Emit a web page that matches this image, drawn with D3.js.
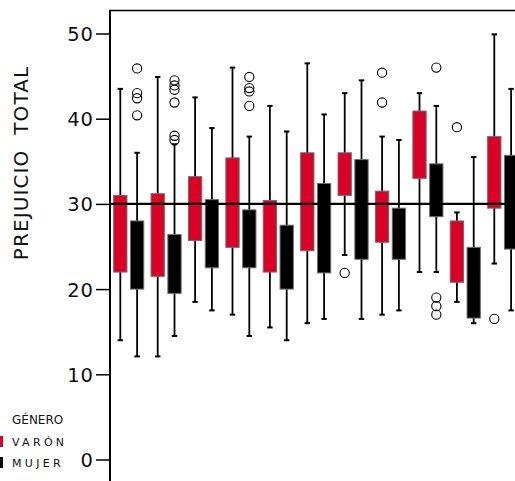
<!DOCTYPE html>
<html>
<head>
<meta charset="utf-8">
<script src="https://cdn.jsdelivr.net/npm/d3@7/dist/d3.min.js"></script>
<style>
  html, body { margin: 0; padding: 0; background: #fff; }
  svg { display: block; }
  text { font-family: "DejaVu Sans", Verdana, sans-serif; fill: #111; }
</style>
</head>
<body>
<svg id="chart" width="515" height="481"></svg>
<script>
// Groups along the x axis (11 groups, two genders each)
const categories = ["1", "2", "3", "4", "5", "6", "7", "8", "9", "10", "11"];
const genders = ["VARÓN", "MUJER"];
const yTicks = [0, 10, 20, 30, 40, 50];
const referenceValue = 30;

// Box statistics per group: lower whisker, Q1, Q3, upper whisker
const varonLow  = [14.0, 12.1, 18.5, 17.0, 15.5, 16.0, 24.0, 17.0, 22.0, 18.5, 23.0];
const varonQ1   = [22.0, 21.5, 25.7, 24.9, 22.0, 24.5, 31.0, 25.5, 33.0, 20.8, 29.5];
const varonQ3   = [31.0, 31.2, 33.2, 35.4, 30.4, 36.0, 36.0, 31.5, 40.9, 28.0, 37.9];
const varonHigh = [43.5, 44.9, 42.5, 46.0, 41.5, 46.5, 43.0, 37.9, 43.0, 29.0, 49.9];
const varonOutliers = [[], [], [], [], [], [], [21.9], [45.4, 41.9], [], [39.0], [16.5]];

const mujerLow  = [12.1, 14.5, 17.5, 14.5, 14.0, 16.5, 16.5, 17.5, 22.0, 16.0, 17.5];
const mujerQ1   = [20.0, 19.5, 22.5, 22.5, 20.0, 21.9, 23.5, 23.5, 28.5, 16.6, 24.7];
const mujerQ3   = [28.0, 26.4, 30.5, 29.3, 27.5, 32.4, 35.2, 29.5, 34.7, 24.9, 35.7];
const mujerHigh = [36.0, 37.0, 38.9, 37.9, 38.5, 40.5, 44.5, 37.5, 41.5, 35.5, 43.5];
const mujerOutliers = [
  [45.9, 43.0, 42.4, 40.4],
  [44.5, 43.9, 43.4, 41.9, 38.0, 37.5],
  [], [44.9, 43.6, 43.2, 41.5], [], [], [], [],
  [46.0, 19.0, 18.0, 17.0], [], []
];

const colors = { "VARÓN": "#dd0026", "MUJER": "#000000" };

// Build the box records from the arrays above
const boxes = [];
categories.forEach((c, i) => {
  boxes.push({ cat: c, gender: "VARÓN", low: varonLow[i], q1: varonQ1[i], q3: varonQ3[i], high: varonHigh[i], out: varonOutliers[i] });
  boxes.push({ cat: c, gender: "MUJER", low: mujerLow[i], q1: mujerQ1[i], q3: mujerQ3[i], high: mujerHigh[i], out: mujerOutliers[i] });
});

const svg = d3.select("#chart");
const plotLeft = 110, plotTop = 10.5;

const y = d3.scaleLinear().domain([0, 50]).range([459.5, 33.5]);
const x = d3.scaleBand().domain(categories).range([plotLeft, 521.4]).padding(0);
const xSub = d3.scalePoint().domain(genders).range([-8.4, 8.4]);
const boxW = 13.3;
const cx = d => x(d.cat) + x.bandwidth() / 2 + xSub(d.gender);

// Frame: top border
svg.append("line")
  .attr("x1", plotLeft).attr("x2", 515).attr("y1", plotTop).attr("y2", plotTop)
  .attr("stroke", "#000").attr("stroke-width", 1.5);

// Whiskers
const g = svg.append("g");
g.selectAll("line.whisker").data(boxes).join("line")
  .attr("class", "whisker")
  .attr("x1", cx).attr("x2", cx)
  .attr("y1", d => y(d.low)).attr("y2", d => y(d.high))
  .attr("stroke", "#000").attr("stroke-width", 1.8);
["low", "high"].forEach(k => {
  g.selectAll("line.cap-" + k).data(boxes).join("line")
    .attr("class", "cap-" + k)
    .attr("x1", d => cx(d) - 2.7).attr("x2", d => cx(d) + 2.7)
    .attr("y1", d => y(d[k])).attr("y2", d => y(d[k]))
    .attr("stroke", "#000").attr("stroke-width", 2);
});

// Boxes
g.selectAll("rect.box").data(boxes).join("rect")
  .attr("class", "box")
  .attr("x", d => cx(d) - boxW / 2)
  .attr("width", boxW)
  .attr("y", d => y(d.q3))
  .attr("height", d => y(d.q1) - y(d.q3))
  .attr("fill", d => colors[d.gender])
  .attr("stroke", "#6e6e6e").attr("stroke-width", 1);

// Outliers
const outs = boxes.flatMap(d => d.out.map(v => ({ cat: d.cat, gender: d.gender, v })));
g.selectAll("circle.outlier").data(outs).join("circle")
  .attr("class", "outlier")
  .attr("cx", cx).attr("cy", d => y(d.v)).attr("r", 4.6)
  .attr("fill", "none").attr("stroke", "#000").attr("stroke-width", 1.1);

// Reference line
svg.append("line")
  .attr("x1", plotLeft).attr("x2", 515)
  .attr("y1", y(referenceValue)).attr("y2", y(referenceValue))
  .attr("stroke", "#000").attr("stroke-width", 2.4);

// Y axis
const yAxis = svg.append("g")
  .attr("transform", `translate(${plotLeft},0)`)
  .call(d3.axisLeft(y).tickValues(yTicks).tickSize(14).tickPadding(2).tickFormat(d3.format("d")));
yAxis.select(".domain").remove();
yAxis.selectAll(".tick line").attr("stroke", "#000").attr("stroke-width", 1.5);
yAxis.selectAll(".tick text")
  .attr("font-size", 19.5).attr("letter-spacing", 1)
  .attr("dy", "0.36em")
  .style("font-family", "'DejaVu Sans', Verdana, sans-serif")
  .attr("fill", "#111");
svg.append("line")
  .attr("x1", plotLeft).attr("x2", plotLeft).attr("y1", plotTop - 0.75).attr("y2", 481)
  .attr("stroke", "#000").attr("stroke-width", 2);

// Y axis title
svg.append("text")
  .attr("transform", `translate(28,${(66 + 260) / 2}) rotate(-90)`)
  .attr("text-anchor", "middle")
  .attr("font-size", 20)
  .attr("letter-spacing", 1.1)
  .style("white-space", "pre")
  .text("PREJUICIO  TOTAL");

// Legend
const legend = svg.append("g");
legend.append("text").attr("x", 12).attr("y", 424).attr("font-size", 12).text("GÉNERO");
genders.forEach((gName, i) => {
  const by = 446 + i * 21;
  legend.append("rect")
    .attr("x", -7).attr("y", by - 10).attr("width", 10).attr("height", 11)
    .attr("fill", colors[gName]);
  legend.append("text")
    .attr("x", 12).attr("y", by)
    .attr("font-size", 11).attr("letter-spacing", 3.3)
    .text(gName);
});
</script>
</body>
</html>
